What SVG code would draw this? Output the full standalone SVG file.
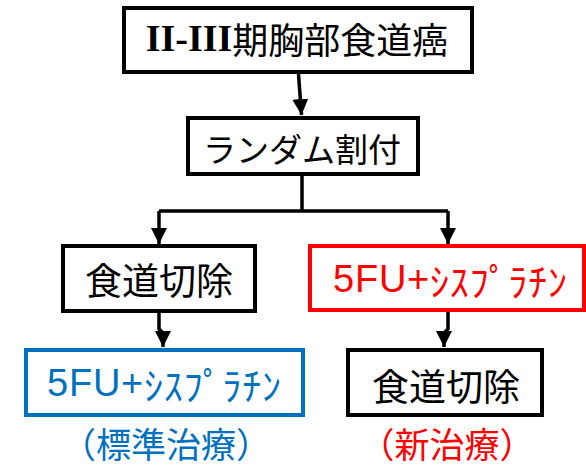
<svg xmlns="http://www.w3.org/2000/svg" width="586" height="467" viewBox="0 0 586 467">
<style>
.box{fill:#fff;stroke-width:4}
.k{stroke:#000}
.r{stroke:#FF0000}
.b{stroke:#0070C0}
.t{font-family:"Noto Sans CJK JP","Liberation Sans",sans-serif;text-anchor:middle;dominant-baseline:central}
.lat{font-family:"Liberation Sans","Noto Sans CJK JP",sans-serif}
.con{fill:none;stroke:#000;stroke-width:3.5}
</style>
<defs>
<marker id="ah" viewBox="0 0 10 10" refX="10" refY="5" markerWidth="16" markerHeight="16" markerUnits="userSpaceOnUse" orient="auto">
<path d="M0,0 L10,5 L0,10 z" fill="#000"/>
</marker>
</defs>
<g id="connectors">
<path class="con" d="M298.5,74 L301.5,115" marker-end="url(#ah)"/>
<path class="con" d="M302,174 V211 M159,211 H448"/>
<path class="con" d="M159,211 V244" marker-end="url(#ah)"/>
<path class="con" d="M448,211 V244" marker-end="url(#ah)"/>
<path class="con" d="M159,312 V329 L163,333 V347" marker-end="url(#ah)"/>
<path class="con" d="M448,310 V329 L444,333 V347" marker-end="url(#ah)"/>
</g>
<g id="n1">
<rect class="box k" x="124" y="8" width="348" height="64"/>
<text class="t" x="297" y="38" font-size="36"><tspan font-family="Liberation Serif,serif" font-weight="bold" font-size="38">II-III</tspan>期胸部食道癌</text>
</g>
<g id="n2">
<rect class="box k" x="188" y="118" width="230" height="56"/>
<text class="t" x="302" y="148" font-size="33">ランダム割付</text>
</g>
<g id="n3">
<rect class="box k" x="63" y="246" width="192" height="65"/>
<text class="t" x="159" y="279" font-size="37">食道切除</text>
</g>
<g id="n4">
<rect class="box r" x="310" y="246" width="274" height="64"/>
<text class="t" x="450" y="279" font-size="38" fill="#FF0000" textLength="234" lengthAdjust="spacing"><tspan class="lat">5FU+</tspan>ｼｽﾌﾟﾗﾁﾝ</text>
</g>
<g id="n5">
<rect class="box b" x="26" y="350" width="277" height="65"/>
<text class="t" x="164" y="383" font-size="38" fill="#0070C0" textLength="234" lengthAdjust="spacing"><tspan class="lat">5FU+</tspan>ｼｽﾌﾟﾗﾁﾝ</text>
</g>
<g id="n6">
<rect class="box k" x="348" y="350" width="194" height="65"/>
<text class="t" x="446" y="385" font-size="37">食道切除</text>
</g>
<g id="labels">
<text class="t" x="166" y="442" font-size="35" fill="#0070C0">（標準治療）</text>
<text class="t" x="447" y="442" font-size="35" fill="#FF0000">（新治療）</text>
</g>
</svg>
